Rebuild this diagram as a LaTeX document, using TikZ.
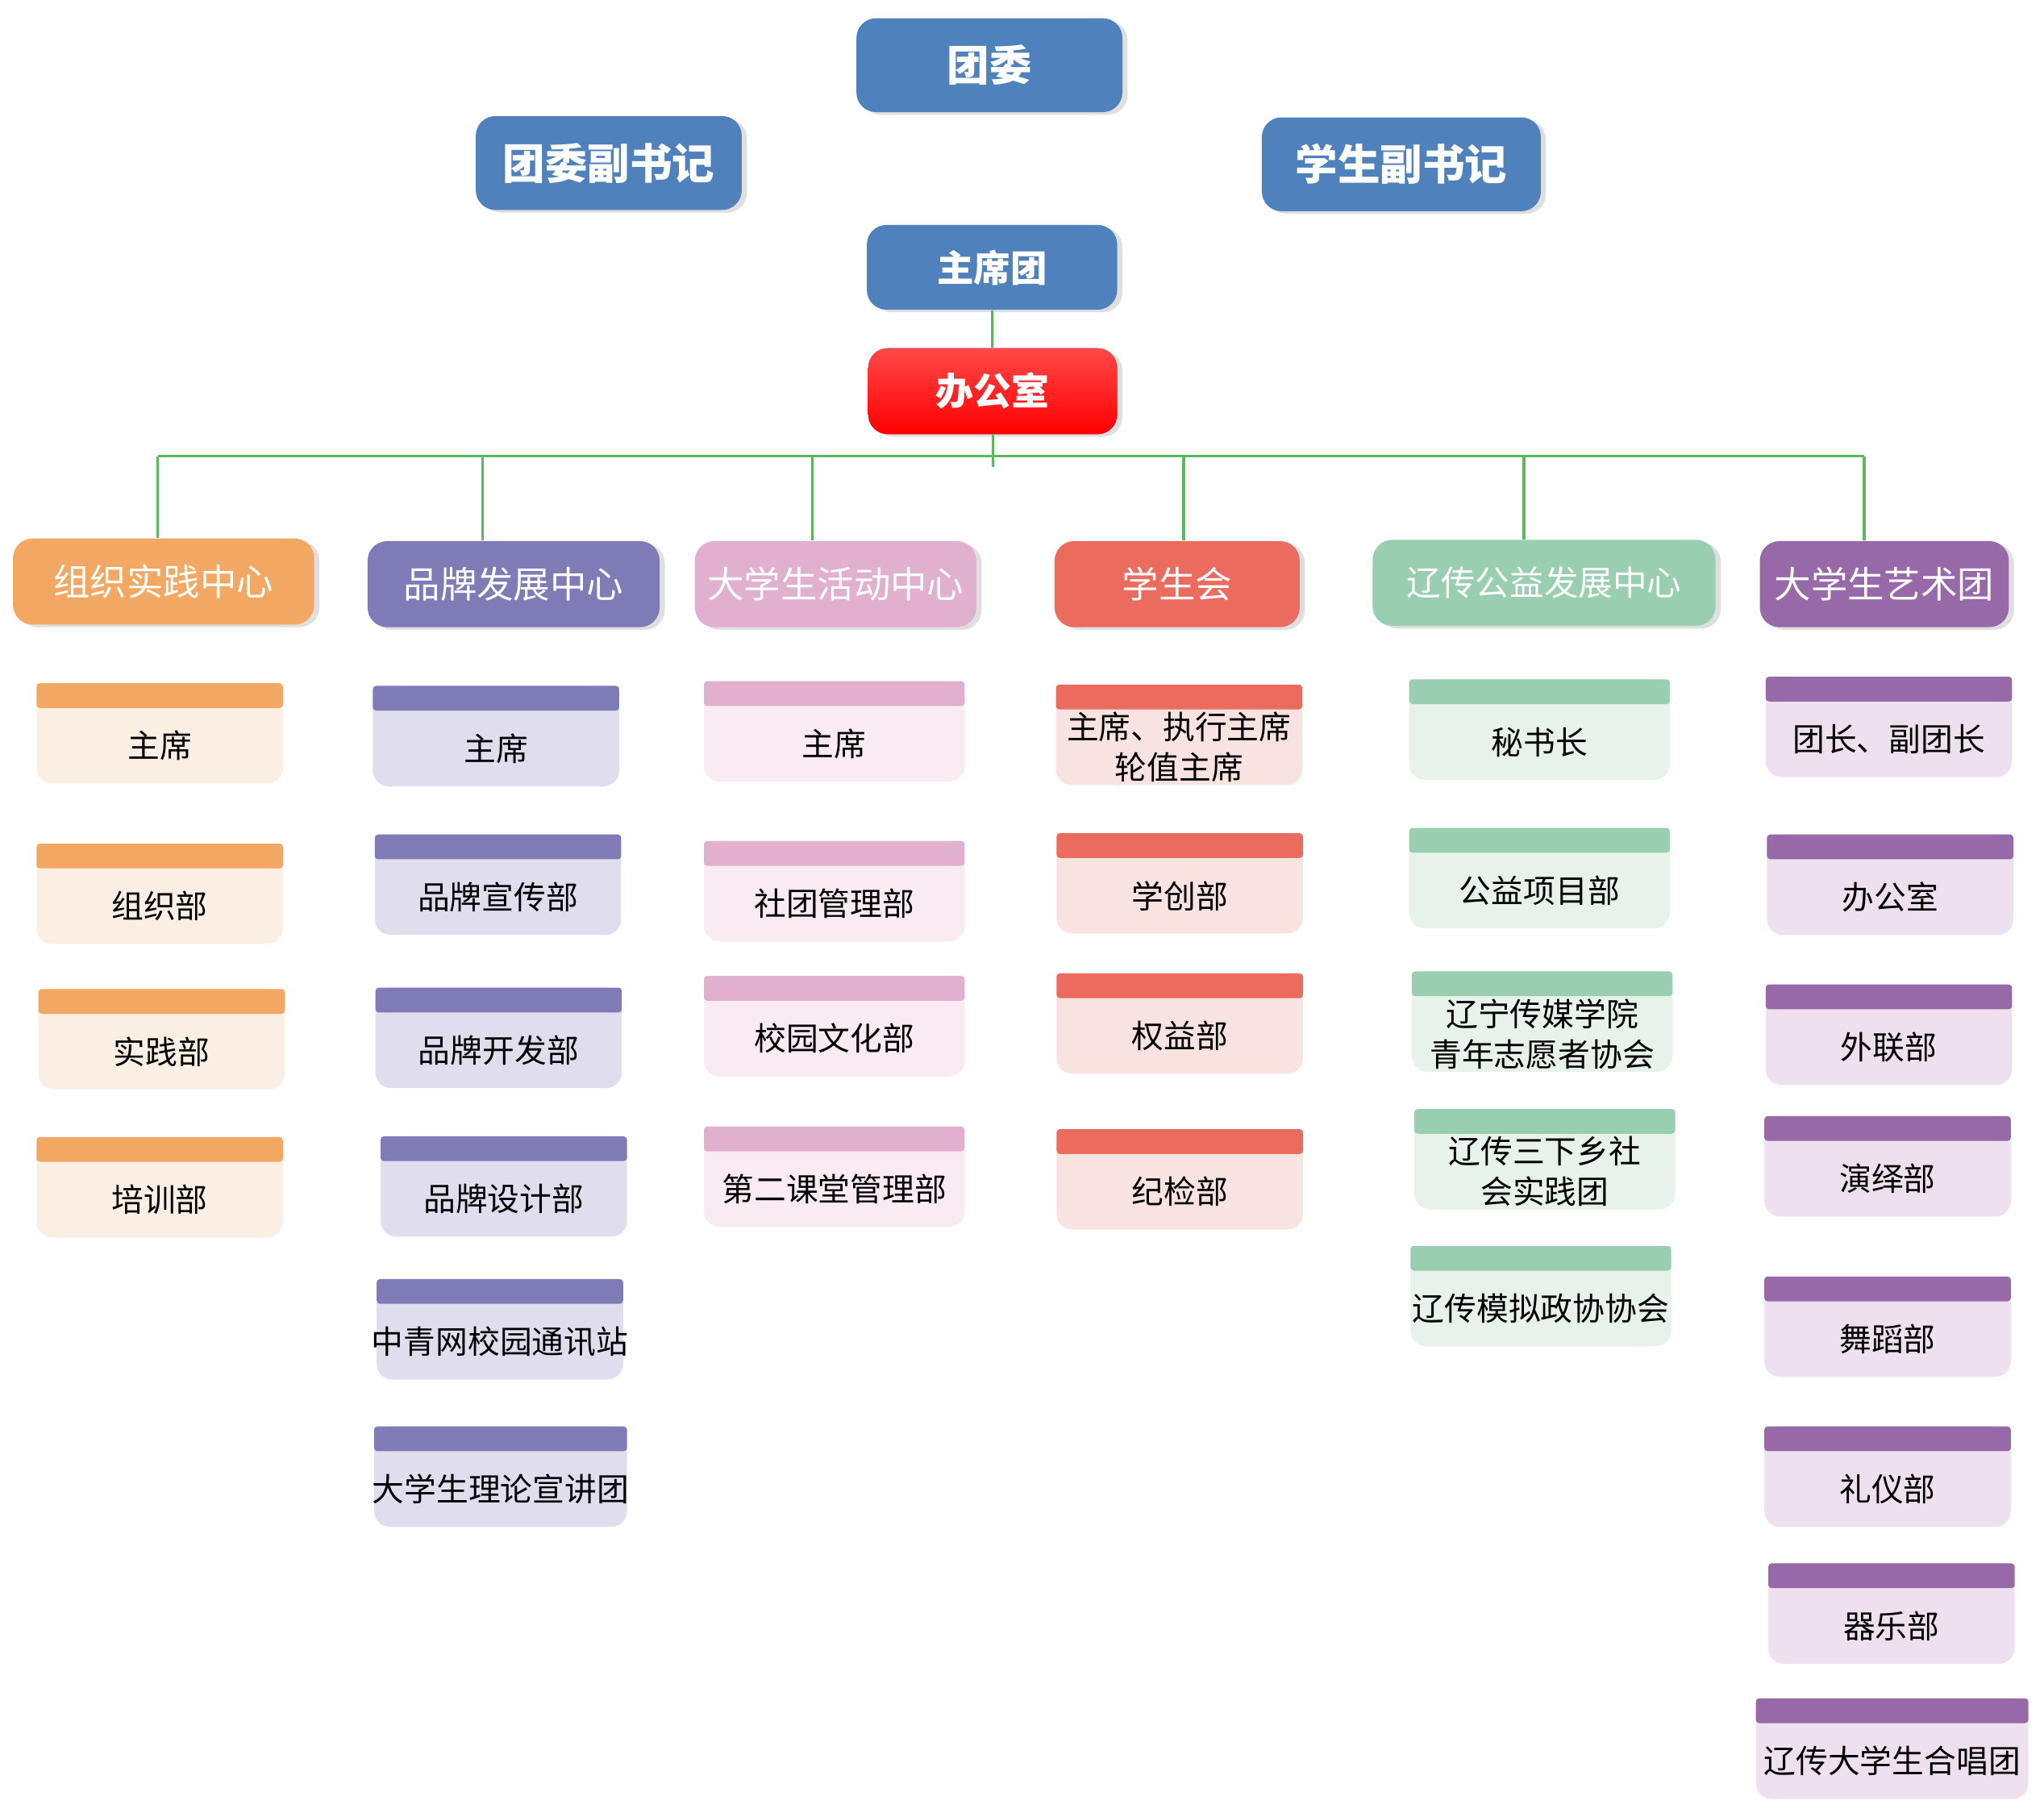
\documentclass[tikz,border=0pt]{standalone}
\usepackage{fontspec}
\newfontfamily\cjk{Noto Sans CJK SC}
\usetikzlibrary{shadows}
\definecolor{topblue}{HTML}{4F81BD}
\definecolor{linkgreen}{HTML}{5CB85C}
\definecolor{org}{HTML}{F2A862}\definecolor{orgL}{HTML}{FBEEE2}
\definecolor{brand}{HTML}{7F7BB6}\definecolor{brandL}{HTML}{E0DDEE}
\definecolor{act}{HTML}{E1B0CF}\definecolor{actL}{HTML}{FAEAF2}
\definecolor{union}{HTML}{EC6B5F}\definecolor{unionL}{HTML}{F9E3E1}
\definecolor{charity}{HTML}{99CFB0}\definecolor{charityL}{HTML}{E7F3EA}
\definecolor{art}{HTML}{9769A9}\definecolor{artL}{HTML}{EFE0EF}
\tikzset{
  link/.style={linkgreen, line width=0.4mm},
  shade box/.style={drop shadow={shadow xshift=0.8mm, shadow yshift=-0.4mm, opacity=0.25}},
  lead/.style={rectangle, rounded corners=3mm, fill=topblue, text=white, inner sep=0pt, shade box,
    font=\cjk\bfseries\fontsize{18.5}{22}\selectfont},
  dept/.style={rectangle, rounded corners=3mm, fill=#1, text=white, inner sep=0pt, minimum height=13.2mm, shade box,
    font=\cjk\fontsize{16}{19}\selectfont},
  unit/.style 2 args={rectangle, rounded corners=2.4mm, fill=#1L, inner sep=0pt, outer sep=0pt,
    minimum width=#2, minimum height=15.4mm,
    label={[anchor=north, fill=#1, rounded corners=0.5mm, minimum width=#2, minimum height=3.8mm,
      inner sep=0pt, outer sep=0pt]north:{}}},
  tag/.style={label={[yshift=-1.9mm, align=center, font=\cjk\fontsize{14}{17.5}\selectfont]center:#1}}
}
\begin{document}
\begin{tikzpicture}[x=0.2mm, y=-0.2mm]
\useasboundingbox (0,0) rectangle (1568,1390);
\node[lead, minimum width=40.8mm, minimum height=14.4mm] (tw) at (759,50) {团委};
\node[lead, minimum width=40.8mm, minimum height=14.4mm] (fsj) at (467,125) {团委副书记};
\node[lead, minimum width=42.8mm, minimum height=14.4mm] (xsj) at (1075,126) {学生副书记};
\node[lead, minimum width=38.4mm, minimum height=13mm, font=\cjk\bfseries\fontsize{16}{19}\selectfont] (zxt) at (761,205) {主席团};
\node[lead, top color={rgb,255:red,255;green,72;blue,72}, bottom color=red, minimum width=38.2mm, minimum height=13.2mm,
  font=\cjk\bfseries\fontsize{16.5}{19}\selectfont] (bgs) at (761.5,300) {办公室};

\node[dept=org, minimum width=46.2mm] (c1) at (125.5,446) {组织实践中心};
\node[dept=brand, minimum width=44.8mm] (c2) at (394,448) {品牌发展中心};
\node[dept=act, minimum width=43.2mm] (c3) at (641,448) {大学生活动中心};
\node[dept=union, minimum width=37.6mm] (c4) at (903,448) {学生会};
\node[dept=charity, minimum width=52.6mm, font=\cjk\fontsize{15}{18}\selectfont] (c5) at (1184.5,447) {辽传公益发展中心};
\node[dept=art, minimum width=38.2mm] (c6) at (1445.5,448) {大学生艺术团};

\draw[link] (zxt) -- (bgs);
\draw[link] (bgs.south) -- ++(0,25);
\coordinate (busW) at (121,350);
\coordinate (busE) at (1430,350);
\draw[link] (busW) -- (busE);
\foreach \n/\x in {c1/121, c2/370, c3/623, c4/908, c5/1169, c6/1430}
  \draw[link] (\x,350) -- (\x,0 |- \n.north);

\node[unit={org}{37.8mm}, tag=主席] (o1) at (122.5,562.5) {};
\node[unit={org}{37.8mm}, tag=组织部] (o2) at (122.5,685.5) {};
\node[unit={org}{37.8mm}, tag=实践部] (o3) at (124,797) {};
\node[unit={org}{37.8mm}, tag=培训部] (o4) at (122.5,910.5) {};

\node[unit={brand}{37.8mm}, tag=主席] (b1) at (380.5,564.5) {};
\node[unit={brand}{37.8mm}, tag=品牌宣传部] (b2) at (382,678.5) {};
\node[unit={brand}{37.8mm}, tag=品牌开发部] (b3) at (382.5,796) {};
\node[unit={brand}{37.8mm}, tag=品牌设计部] (b4) at (386.5,910) {};
\node[unit={brand}{37.8mm}, tag=中青网校园通讯站] (b5) at (383.5,1019.5) {};
\node[unit={brand}{38.8mm}, tag=大学生理论宣讲团] (b6) at (384,1132.5) {};

\node[unit={act}{40mm}, tag=主席] (a1) at (640,561) {};
\node[unit={act}{40mm}, tag=社团管理部] (a2) at (640,683.5) {};
\node[unit={act}{40mm}, tag=校园文化部] (a3) at (640,787) {};
\node[unit={act}{40mm}, tag=第二课堂管理部] (a4) at (640,902.5) {};

\node[unit={union}{37.8mm}, tag={主席、执行主席\\轮值主席}] (u1) at (904.5,563.5) {};
\node[unit={union}{37.8mm}, tag=学创部] (u2) at (905,677.5) {};
\node[unit={union}{37.8mm}, tag=权益部] (u3) at (905,785) {};
\node[unit={union}{37.8mm}, tag=纪检部] (u4) at (905,904.5) {};

\node[unit={charity}{40mm}, tag=秘书长] (g1) at (1181,559.5) {};
\node[unit={charity}{40mm}, tag=公益项目部] (g2) at (1181,673.5) {};
\node[unit={charity}{40mm}, tag={辽宁传媒学院\\青年志愿者协会}] (g3) at (1183,783.5) {};
\node[unit={charity}{40mm}, tag={辽传三下乡社\\会实践团}] (g4) at (1185,889) {};
\node[unit={charity}{40mm}, tag=辽传模拟政协协会] (g5) at (1182,994) {};

\node[unit={art}{37.8mm}, tag=团长、副团长] (y1) at (1449,557.5) {};
\node[unit={art}{37.8mm}, tag=办公室] (y2) at (1450,678.5) {};
\node[unit={art}{37.8mm}, tag=外联部] (y3) at (1449,793.5) {};
\node[unit={art}{37.8mm}, tag=演绎部] (y4) at (1448,894.5) {};
\node[unit={art}{37.8mm}, tag=舞蹈部] (y5) at (1448,1017.5) {};
\node[unit={art}{37.8mm}, tag=礼仪部] (y6) at (1448,1132.5) {};
\node[unit={art}{37.8mm}, tag=器乐部] (y7) at (1451,1237.5) {};
\node[unit={art}{41.8mm}, tag=辽传大学生合唱团] (y8) at (1451.5,1341) {};
\end{tikzpicture}
\end{document}
